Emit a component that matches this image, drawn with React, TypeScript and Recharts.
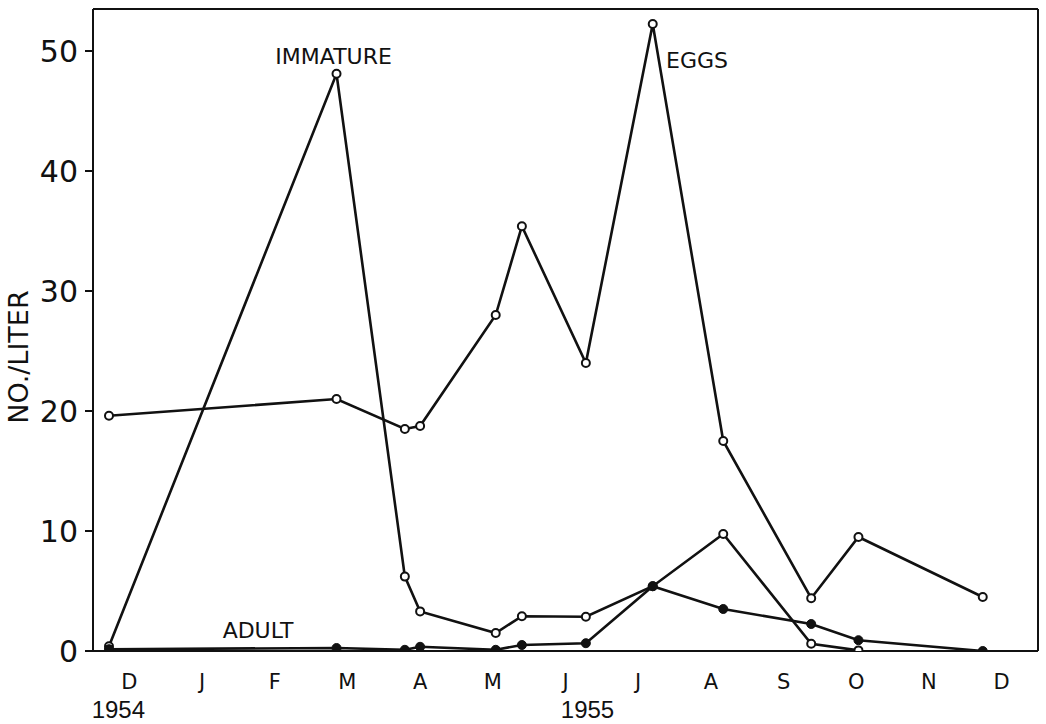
import React from "react";
import {
  LineChart,
  Line,
  XAxis,
  YAxis,
  ReferenceLine,
  ReferenceDot,
} from "recharts";

// sampling dates, in months after 1 Dec 1954
const sampleMonth = [0.22, 3.35, 4.29, 4.5, 5.54, 5.9, 6.78, 7.7, 8.67, 9.88, 10.53, 12.24];
const eggs = [19.6, 21.0, 18.5, 18.75, 28.0, 35.4, 24.0, 52.25, 17.5, 4.4, 9.5, 4.5];
const immature = [0.4, 48.1, 6.2, 3.3, 1.5, 2.9, 2.85, 5.4, 9.75, 0.6, 0.05, null];
const adult = [0.15, 0.25, 0.1, 0.35, 0.1, 0.5, 0.65, 5.4, 3.5, 2.25, 0.9, 0];

const monthLetters = ["D", "J", "F", "M", "A", "M", "J", "J", "A", "S", "O", "N", "D"];
const monthBounds = [0, 1, 2, 3, 4, 5, 6, 7, 8, 9, 10, 11, 12, 13];
const monthMids = monthLetters.map((_, i) => i + 0.5);
const yTicks = [0, 10, 20, 30, 40, 50];
const yearLabels: Record<number, { text: string; dx: number }> = {
  0: { text: "1954", dx: -11 },
  6: { text: "1955", dx: 22 },
};

const data = sampleMonth.map((m, i) => ({
  m,
  eggs: eggs[i],
  immature: immature[i],
  adult: adult[i],
}));

const ink = "#111";

const MonthTick = (props: any) => {
  const { x, y, payload, index } = props;
  const year = yearLabels[index];
  return (
    <g>
      <text
        x={x}
        y={y + 26}
        textAnchor="middle"
        fontFamily="DejaVu Sans"
        fontSize={21}
        fill={ink}
      >
        {monthLetters[index] ?? payload.value}
      </text>
      {year && (
        <text
          x={x + year.dx}
          y={y + 55}
          textAnchor="middle"
          fontFamily="Liberation Sans"
          fontSize={24}
          fill={ink}
        >
          {year.text}
        </text>
      )}
    </g>
  );
};

const openDot = { r: 4, fill: "#fff", stroke: ink, strokeWidth: 2 };
const filledDot = { r: 4.5, fill: ink, stroke: ink, strokeWidth: 1 };

export default function App() {
  return (
    <div style={{ position: "absolute", left: 0, top: 0 }}>
      <LineChart
        width={1046}
        height={724}
        data={data}
        margin={{ top: 9, right: 8, bottom: 0, left: 0 }}
      >
        <XAxis
          type="number"
          dataKey="m"
          domain={[0, 13]}
          ticks={monthBounds}
          tick={false}
          tickSize={12}
          height={12}
          stroke={ink}
          strokeWidth={2}
          allowDataOverflow
        />
        <XAxis
          xAxisId="lab"
          type="number"
          dataKey="m"
          domain={[0, 13]}
          ticks={monthMids}
          axisLine={false}
          tickLine={false}
          tickSize={0}
          tickMargin={0}
          height={61}
          interval={0}
          tick={<MonthTick />}
        />
        <YAxis
          type="number"
          domain={[0, 53.5]}
          ticks={yTicks}
          width={93}
          tickSize={8}
          tickMargin={7}
          stroke={ink}
          strokeWidth={2}
          allowDataOverflow
          tick={{ fill: ink, fontSize: 30, fontFamily: "DejaVu Sans" }}
          label={{
            content: () => (
              <text
                x={18}
                y={357}
                transform="rotate(-90, 18, 357)"
                textAnchor="middle"
                dominantBaseline="central"
                fontFamily="DejaVu Sans"
                fontSize={27}
                fill={ink}
              >
                NO./LITER
              </text>
            ),
          }}
        />
        <ReferenceLine y={53.5} stroke={ink} strokeWidth={2} />
        <ReferenceLine x={13} stroke={ink} strokeWidth={2} />

        <Line
          dataKey="eggs"
          stroke={ink}
          strokeWidth={2.6}
          dot={openDot}
          isAnimationActive={false}
        />
        <Line
          dataKey="immature"
          stroke={ink}
          strokeWidth={2.6}
          dot={openDot}
          isAnimationActive={false}
        />
        <Line
          dataKey="adult"
          stroke={ink}
          strokeWidth={2.6}
          dot={filledDot}
          isAnimationActive={false}
        />

        <ReferenceDot
          x={3.31}
          y={49.6}
          r={0}
          stroke="none"
          label={{ value: "IMMATURE", position: "center", fill: ink, fontSize: 22, fontFamily: "DejaVu Sans" }}
        />
        <ReferenceDot
          x={8.31}
          y={49.25}
          r={0}
          stroke="none"
          label={{ value: "EGGS", position: "center", fill: ink, fontSize: 22, fontFamily: "DejaVu Sans" }}
        />
        <ReferenceDot
          x={2.27}
          y={1.75}
          r={0}
          stroke="none"
          label={{ value: "ADULT", position: "center", fill: ink, fontSize: 22, fontFamily: "DejaVu Sans" }}
        />
      </LineChart>
    </div>
  );
}
